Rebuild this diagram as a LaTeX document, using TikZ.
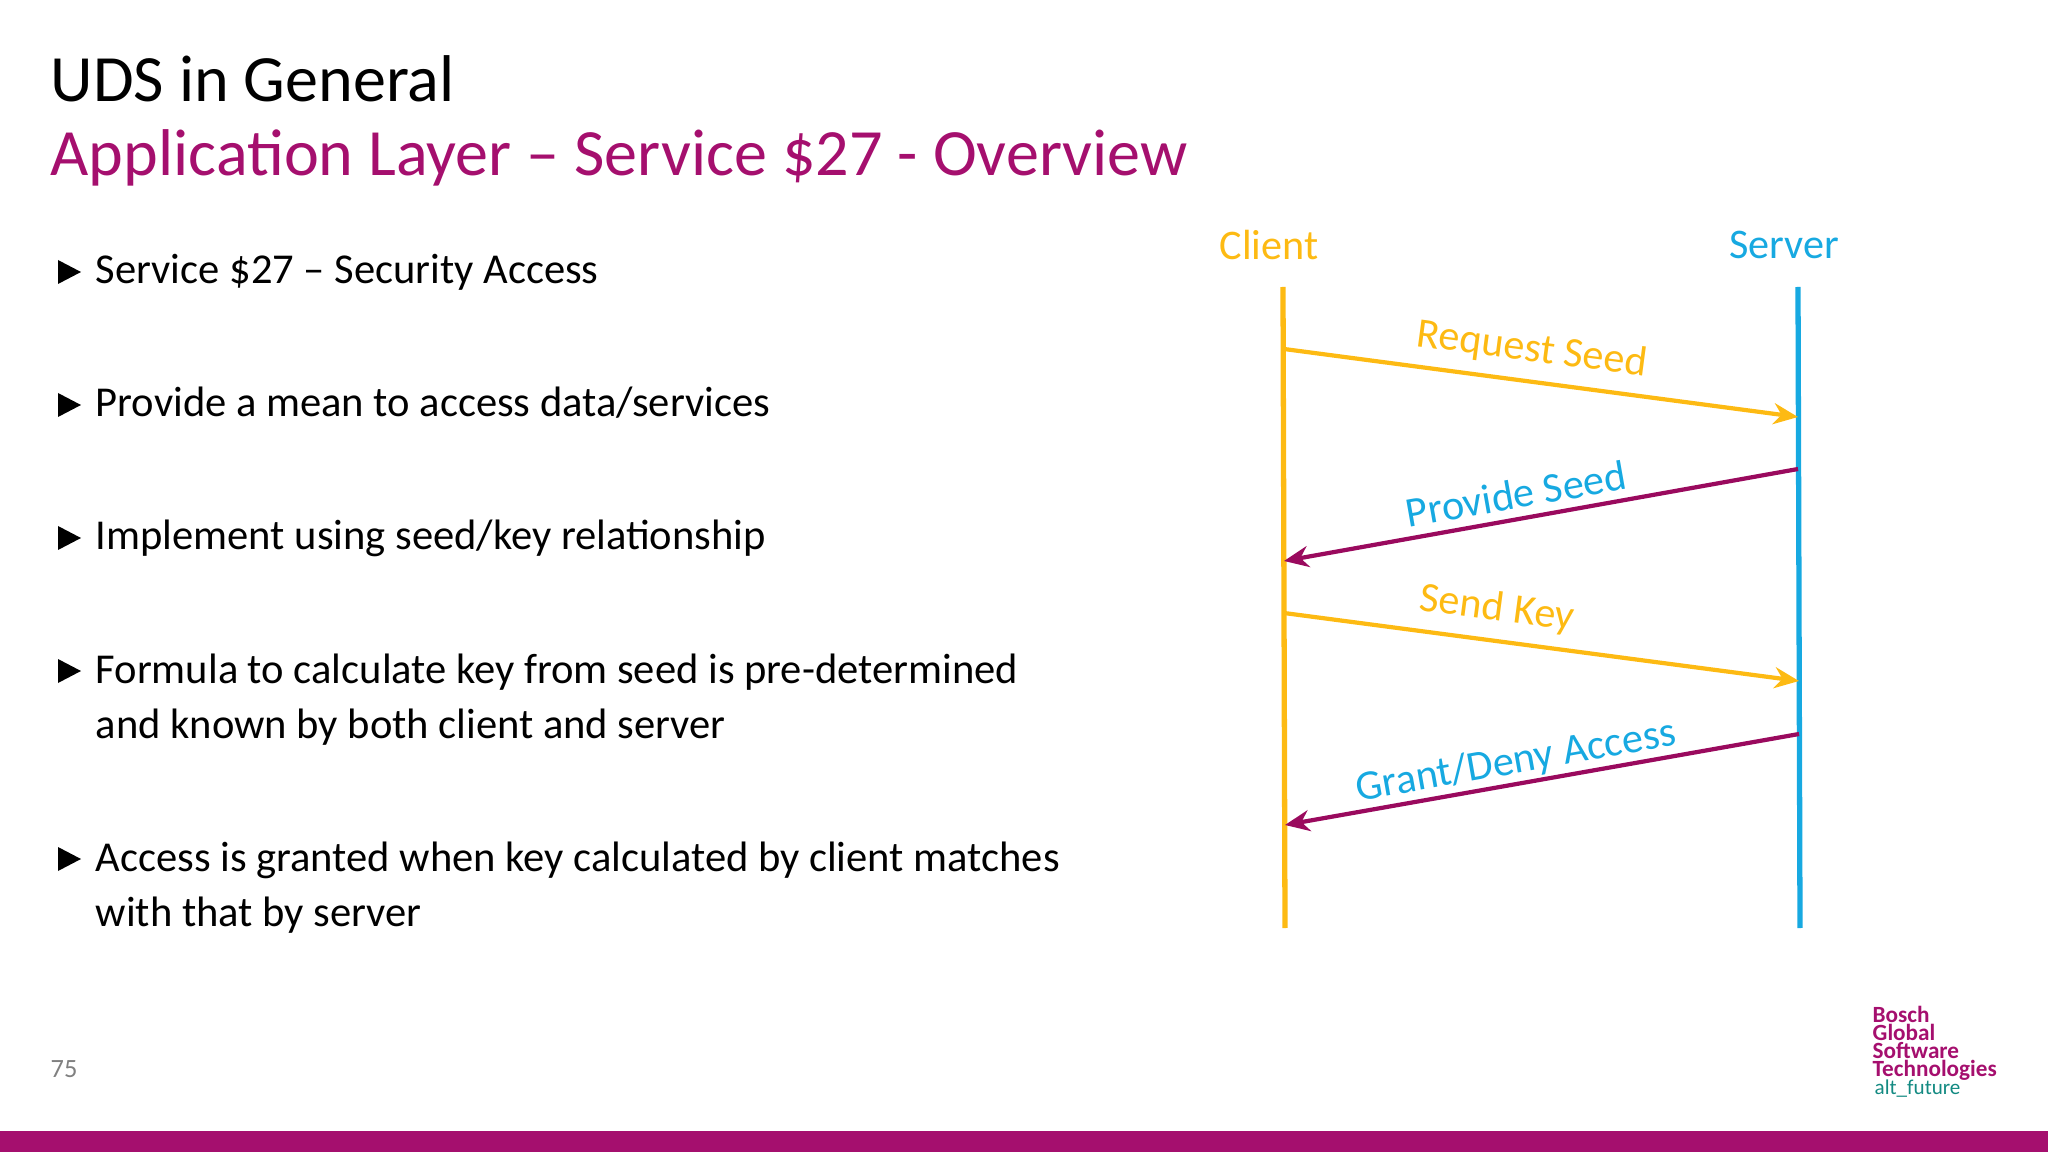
\documentclass[tikz,border=0pt]{standalone}
\usepackage{fontspec}
\setmainfont{Carlito}
\usetikzlibrary{positioning,arrows.meta}
\definecolor{boschmag}{HTML}{A50F6E}
\definecolor{cyel}{HTML}{FDBA13}
\definecolor{sblue}{HTML}{17A9E1}
\definecolor{msgpur}{HTML}{9A0A5E}
\definecolor{logoteal}{HTML}{138A82}
\begin{document}
\begin{tikzpicture}[x=0.01cm,y=-0.01cm,
    ttl/.style={anchor=base west,inner sep=0pt,font=\fontsize{18.8}{22}\selectfont},
    btxt/.style={anchor=base west,inner sep=0pt,font=\fontsize{12.1}{14}\selectfont},
    life/.style={line width=1.5pt},
    msg/.style={line width=1.2pt,-{Stealth[length=7pt,width=6pt]}},
    mlab/.style={font=\fontsize{12}{14}\selectfont,inner sep=0pt},
    logo/.style={anchor=base west,inner sep=0pt,font=\fontsize{6.6}{6.6}\selectfont\bfseries,text=boschmag}
    ]
    \useasboundingbox (0,0) rectangle (2048,1152);
    \fill[boschmag] (0,1131) rectangle (2048,1152);
    % titles
    \node[ttl] (title) at (50,102) {UDS in General};
    \node[ttl,text=boschmag] (subtitle) at (50,176) {Application Layer – Service \$27 - Overview};
    % bullets
    \foreach \Y/\T/\U [count=\i] in {284/{Service \$27 – Security Access}/{},
        417/{Provide a mean to access data/services}/{},
        550/{Implement using seed/key relationship}/{},
        683/{Formula to calculate key from seed is pre-determined}/{and known by both client and server},
        871/{Access is granted when key calculated by client matches}/{with that by server}}
    {
        \fill (58,\Y-24) -- (81,\Y-12) -- (58,\Y) -- cycle;
        \node[btxt] (b\i) at (95,\Y) {\T};
        \node[btxt] (b\i x) at (95,\Y+55) {\U};
    }
    \node[anchor=base west,inner sep=0pt,text=gray,font=\fontsize{7.5}{8}\selectfont] (pnum) at (50,1077) {75};
    % sequence
    \node[mlab,text=cyel] (client) at (1269,245) {Client};
    \node[mlab,text=sblue] (server) at (1784,245) {Server};
    \coordinate (ctop) at (1283,287);
    \coordinate (cbot) at (1285,928);
    \coordinate (stop) at (1798,287);
    \coordinate (sbot) at (1800,928);
    \draw[life,cyel] (ctop) -- (cbot);
    \draw[life,sblue] (stop) -- (sbot);
    \coordinate (c1) at (1284,349); \coordinate (s1) at (1798,417);
    \coordinate (s2) at (1798,469); \coordinate (c2) at (1284,561);
    \coordinate (c3) at (1284,613); \coordinate (s3) at (1799,681);
    \coordinate (s4) at (1799,734); \coordinate (c4) at (1285,825);
    \draw[msg,cyel] (c1) -- (s1);
    \draw[msg,msgpur] (s2) -- (c2);
    \draw[msg,cyel] (c3) -- (s3);
    \draw[msg,msgpur] (s4) -- (c4);
    \node[mlab,text=cyel,rotate=-7.5] (rq) at (1532,350) {Request Seed};
    \node[mlab,text=sblue,rotate=10] (ps) at (1516,494) {Provide Seed};
    \node[mlab,text=cyel,rotate=-7.5] (sk) at (1497,609) {Send Key};
    \node[mlab,text=sblue,rotate=10] (gd) at (1516,762) {Grant/Deny Access};
    % logo
    \node[logo] (l1) at (1872,1022) {Bosch};
    \node[logo] (l2) at (1872,1040) {Global};
    \node[logo] (l3) at (1872,1058) {Software};
    \node[logo] (l4) at (1872,1076) {Technologies};
    \node[logo,font=\fontsize{6}{6}\selectfont,text=logoteal] (l5) at (1874,1094) {alt\_future};
\end{tikzpicture}
\end{document}
